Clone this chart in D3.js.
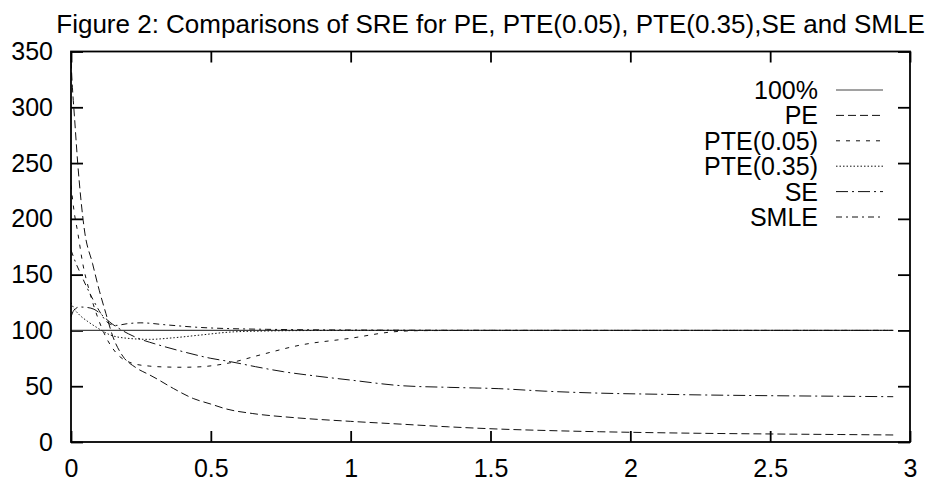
<!DOCTYPE html>
<html>
<head>
<meta charset="utf-8">
<script src="https://cdn.jsdelivr.net/npm/d3@7"></script>
<style>
  body { margin: 0; background: #fff; }
  svg text { font-family: "Liberation Sans", Arial, Helvetica, sans-serif; }
</style>
</head>
<body>
<div id="chart"></div>
<script>
let width = 929;
let height = 481;

let titleText = "Figure 2: Comparisons of SRE for PE, PTE(0.05), PTE(0.35),SE and SMLE";

let xTicks = [0, 0.5, 1, 1.5, 2, 2.5, 3];
let yTicks = [0, 50, 100, 150, 200, 250, 300, 350];

// values, [x, SRE]
let fullLine = [[0, 100], [2.94, 100]];

let peData = [[0, 342], [0.005, 318], [0.012, 293], [0.024, 250], [0.036, 216], [0.048, 190],
  [0.077, 160], [0.101, 136], [0.125, 115], [0.149, 95], [0.185, 77], [0.23, 67], [0.282, 60],
  [0.304, 57], [0.366, 48], [0.437, 39], [0.5, 34], [0.557, 29.5], [0.65, 25.5], [0.8, 21.8],
  [1.0, 18.5], [1.18, 16], [1.35, 13.6], [1.53, 11.6], [1.7, 10.3], [1.89, 9.2], [2.05, 8.5],
  [2.25, 7.8], [2.5, 7.2], [2.75, 6.7], [2.94, 6.3]];

let pte05Data = [[0, 230], [0.012, 205], [0.024, 188], [0.042, 160], [0.065, 136], [0.095, 112],
  [0.125, 94], [0.161, 80], [0.22, 70.5], [0.282, 68], [0.33, 67.3], [0.4, 67], [0.461, 67.4],
  [0.569, 71], [0.676, 78], [0.819, 86.8], [1.0, 93], [1.15, 98.7], [1.25, 99.8], [1.5, 100],
  [2.0, 100], [2.5, 100], [2.94, 100]];

let pte35Data = [[0, 125], [0.01, 120], [0.03, 114], [0.06, 108], [0.09, 103], [0.14, 96],
  [0.2, 93], [0.28, 92], [0.37, 93.5], [0.46, 95.8], [0.58, 98.7], [0.7, 99.5], [0.85, 99.9],
  [1.0, 100], [2.0, 100], [2.94, 100]];

let seData = [[0, 112], [0.01, 118], [0.03, 121], [0.06, 120.5], [0.082, 119], [0.11, 114],
  [0.136, 108], [0.17, 102], [0.205, 97], [0.25, 92], [0.3, 88], [0.4, 81], [0.5, 75],
  [0.57, 72], [0.66, 67.5], [0.76, 63], [0.88, 59], [1.0, 55.5], [1.18, 50.5], [1.35, 49],
  [1.53, 47.8], [1.7, 45.5], [1.89, 43.8], [2.1, 42.8], [2.25, 42.2], [2.5, 41.5],
  [2.75, 41], [2.94, 40.6]];

let smleData = [[0, 172], [0.018, 160], [0.036, 150], [0.054, 140], [0.08, 127], [0.1, 118],
  [0.12, 110], [0.137, 106], [0.16, 104.5], [0.2, 106], [0.25, 106.8], [0.34, 105],
  [0.46, 102.7], [0.7, 101], [1.0, 100.4], [1.5, 100.1], [2.0, 100], [2.94, 100]];

let seriesNames = ["100%", "PE", "PTE(0.05)", "PTE(0.35)", "SE", "SMLE"];
let seriesData = [fullLine, peData, pte05Data, pte35Data, seData, smleData];
let seriesDash = ["none", "8,4", "4,6", "1.5,2", "12,4,2,4", "6,4,2,4"];
let seriesColor = ["#444", "#111", "#111", "#111", "#111", "#111"];

let plotLeft = 71, plotRight = 910, plotTop = 51.5, plotBottom = 442;
let labelSize = 25;

let svg = d3.select("#chart").append("svg")
    .attr("width", width)
    .attr("height", height)
    .style("background-color", "white");

let xScale = d3.scaleLinear().domain([0, 3]).range([plotLeft, plotRight]);
let yScale = d3.scaleLinear().domain([0, 350]).range([plotBottom, plotTop]);

// title
svg.append("text")
    .attr("x", (plotLeft + plotRight) / 2)
    .attr("y", 33)
    .attr("text-anchor", "middle")
    .attr("font-size", 26)
    .text(titleText);

// axes, gnuplot style ticks pointing inward on all four sides
let xAxis = d3.axisBottom(xScale).tickValues(xTicks).tickSize(-11).tickPadding(17)
    .tickFormat(d3.format("~g"));
let xAxisGroup = svg.append("g").attr("transform", "translate(0," + plotBottom + ")").call(xAxis);

let yAxis = d3.axisLeft(yScale).tickValues(yTicks).tickSize(-12).tickPadding(18);
let yAxisGroup = svg.append("g").attr("transform", "translate(" + plotLeft + ",0)").call(yAxis);

let xTop = d3.axisTop(xScale).tickValues(xTicks).tickSize(-11).tickFormat("");
let xTopGroup = svg.append("g").attr("transform", "translate(0," + plotTop + ")").call(xTop);

let yRight = d3.axisRight(yScale).tickValues(yTicks).tickSize(-12).tickFormat("");
let yRightGroup = svg.append("g").attr("transform", "translate(" + plotRight + ",0)").call(yRight);

[xAxisGroup, yAxisGroup, xTopGroup, yRightGroup].forEach(function(g){
    g.select(".domain").remove();
    g.selectAll("line").attr("stroke", "#000").attr("stroke-width", 1.8);
    g.selectAll("text").attr("font-size", labelSize).attr("fill", "#000")
        .style("font-family", "'Liberation Sans', Arial, sans-serif");
});

// curves
svg.append("clipPath").attr("id", "plotclip")
  .append("rect")
    .attr("x", plotLeft).attr("y", plotTop)
    .attr("width", plotRight - plotLeft).attr("height", plotBottom - plotTop);

let line = d3.line()
    .x(d => xScale(d[0]))
    .y(d => yScale(d[1]))
    .curve(d3.curveMonotoneX);

let curveGroup = svg.append("g").attr("clip-path", "url(#plotclip)");
curveGroup.selectAll("path").data(seriesData).enter()
  .append("path")
    .attr("d", line)
    .attr("fill", "none")
    .attr("stroke", (d, i) => seriesColor[i])
    .attr("stroke-width", (d, i) => i == 0 ? 1.3 : 1)
    .attr("stroke-dasharray", (d, i) => seriesDash[i]);

// frame
svg.append("rect")
    .attr("x", plotLeft).attr("y", plotTop)
    .attr("width", plotRight - plotLeft).attr("height", plotBottom - plotTop)
    .attr("fill", "none")
    .attr("stroke", "#000")
    .attr("stroke-width", 1.8);

// legend
let legendY = d3.scalePoint().domain(seriesNames).range([90, 217]);
let legend = svg.append("g");
legend.selectAll("text").data(seriesNames).enter()
  .append("text")
    .attr("x", 818)
    .attr("y", d => legendY(d))
    .attr("dy", "0.36em")
    .attr("text-anchor", "end")
    .attr("font-size", labelSize)
    .text(d => d);
legend.selectAll("line").data(seriesNames).enter()
  .append("line")
    .attr("x1", 836).attr("x2", 883)
    .attr("y1", d => legendY(d)).attr("y2", d => legendY(d))
    .attr("stroke", (d, i) => seriesColor[i])
    .attr("stroke-width", 1)
    .attr("stroke-dasharray", (d, i) => seriesDash[i]);
</script>
</body>
</html>
